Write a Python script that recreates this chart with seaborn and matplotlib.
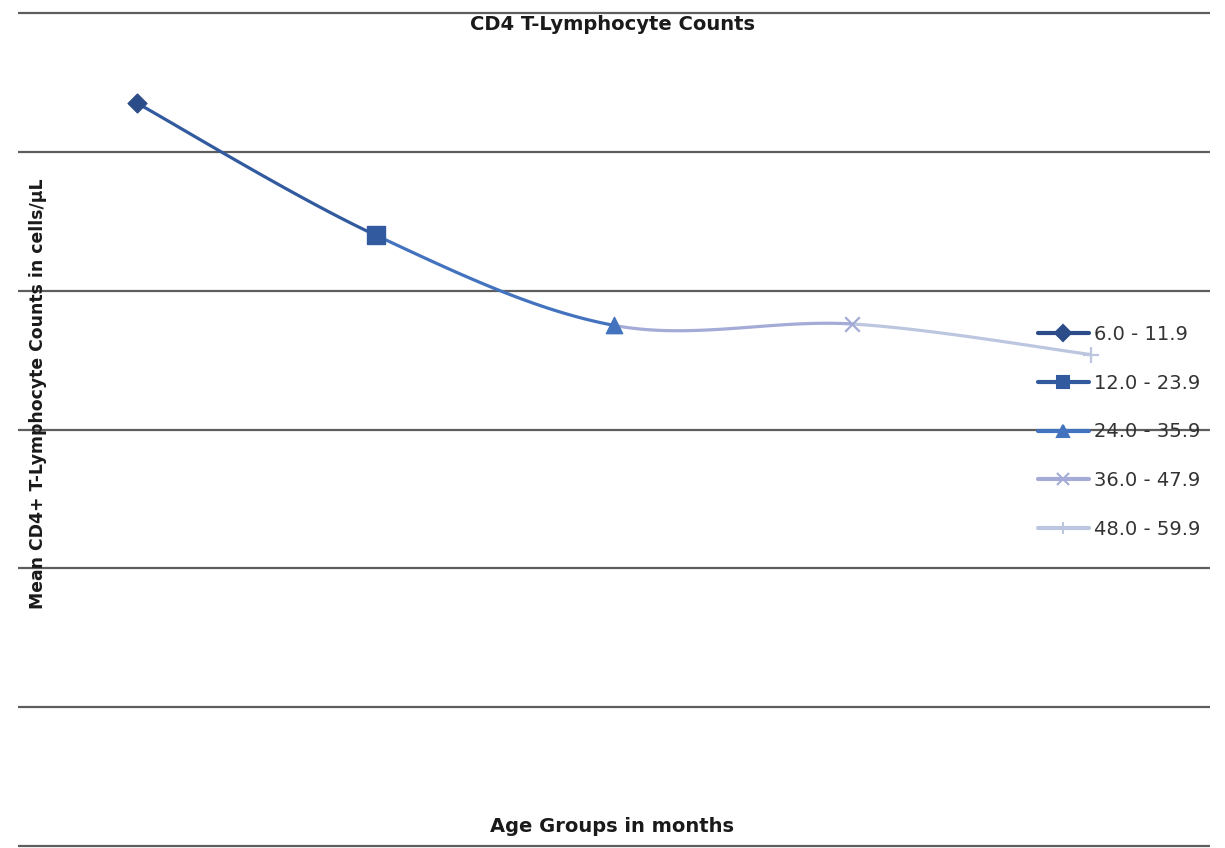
import numpy as np
import pandas as pd
import matplotlib
matplotlib.use("Agg")
import matplotlib.pyplot as plt
import seaborn as sns
from matplotlib.lines import Line2D

# ---- data ----
age_groups = ["6.0 - 11.9", "12.0 - 23.9", "24.0 - 35.9", "36.0 - 47.9", "48.0 - 59.9"]
mean_cd4 = [535, 440, 375, 376, 354]
gridline_values = [0, 100, 200, 300, 400, 500, 600]

title = "CD4 T-Lymphocyte Counts"
x_label = "Age Groups in months"
y_label = "Mean CD4+ T-Lymphocyte Counts in cells/\u03bcL"

point_colors = ["#2B4C88", "#325A9E", "#4373BE", "#A3ABD6", "#BCC7DF"]
point_markers = ["D", "s", "^", "x", "+"]
marker_sizes = [95, 150, 140, 110, 140]

sns.set_theme(style="white")
plt.rcParams["font.family"] = ["DejaVu Sans"]

W, H = 1225, 848
fig = plt.figure(figsize=(W / 100, H / 100), dpi=100)
ax = fig.add_axes([18 / W, 0, (1210 - 18) / W, 1])

df = pd.DataFrame({"group": age_groups, "pos": np.arange(len(age_groups)), "value": mean_cd4})

# smoothed line (Catmull-Rom / Bezier like Excel's smoothed line), one segment per point colour
xs = df["pos"].to_numpy(float)
ys = df["value"].to_numpy(float)
P = np.column_stack([xs, ys])
n = len(P)
t = np.linspace(0, 1, 40)
for i in range(n - 1):
    p0 = P[max(i - 1, 0)]
    p1 = P[i]
    p2 = P[i + 1]
    p3 = P[min(i + 2, n - 1)]
    c1 = p1 + (p2 - p0) / 6
    c2 = p2 - (p3 - p1) / 6
    b = ((1 - t) ** 3)[:, None] * p1 + (3 * (1 - t) ** 2 * t)[:, None] * c1 \
        + (3 * (1 - t) * t ** 2)[:, None] * c2 + (t ** 3)[:, None] * p2
    seg = pd.DataFrame({"x": b[:, 0], "y": b[:, 1]})
    sns.lineplot(data=seg, x="x", y="y", sort=False, estimator=None, ax=ax,
                 color=point_colors[i + 1], linewidth=2.3, zorder=3)

for i, row in df.iterrows():
    m = point_markers[i]
    kw = dict(edgecolor=point_colors[i]) if m in ("D", "s", "^") else dict(linewidth=1.6)
    sns.scatterplot(data=df.iloc[[i]], x="pos", y="value", marker=m, s=marker_sizes[i],
                    color=point_colors[i], ax=ax, zorder=4, legend=False, **kw)

# axes styling: only horizontal gridlines, no ticks / spines
px_per_unit = (846 - 13) / 600
ax.set_ylim(-(848 - 846) / px_per_unit, 600 + 13 / px_per_unit)
ax.set_xlim(-0.5, len(age_groups) - 0.5)
ax.set_yticks(gridline_values)
ax.set_xticks([])
ax.tick_params(left=False, bottom=False, labelleft=False, labelbottom=False)
ax.grid(axis="y", color="#5E5E5E", linewidth=1.6)
ax.set_axisbelow(True)
for s in ax.spines.values():
    s.set_visible(False)
ax.set_xlabel("")
ax.set_ylabel("")

# texts
fig.text(612 / W, 1 - 24 / H, title, ha="center", va="center", fontsize=14, fontweight="bold", color="#1a1a1a")
fig.text(612 / W, 1 - 827 / H, x_label, ha="center", va="center", fontsize=14, fontweight="bold", color="#1a1a1a")
fig.text(38 / W, 1 - 394 / H, y_label, ha="center", va="center", rotation=90, fontsize=12.4,
         fontweight="bold", color="#1a1a1a")

# legend
handles = []
for i, g in enumerate(age_groups):
    m = point_markers[i]
    handles.append(Line2D([0], [0], color=point_colors[i], linewidth=3, marker=m,
                          markersize=8 if m != "s" else 9, markeredgewidth=1.5,
                          markerfacecolor=point_colors[i], markeredgecolor=point_colors[i]))
leg = fig.legend(handles, age_groups, loc="upper left", bbox_to_anchor=(1038 / W, 1 - 325 / H),
                 frameon=False, fontsize=14, handlelength=2.6, handletextpad=0.3,
                 labelspacing=1.53, borderpad=0, borderaxespad=0)
for txt in leg.get_texts():
    txt.set_color("#333333")

fig.savefig("out.png", dpi=100)
